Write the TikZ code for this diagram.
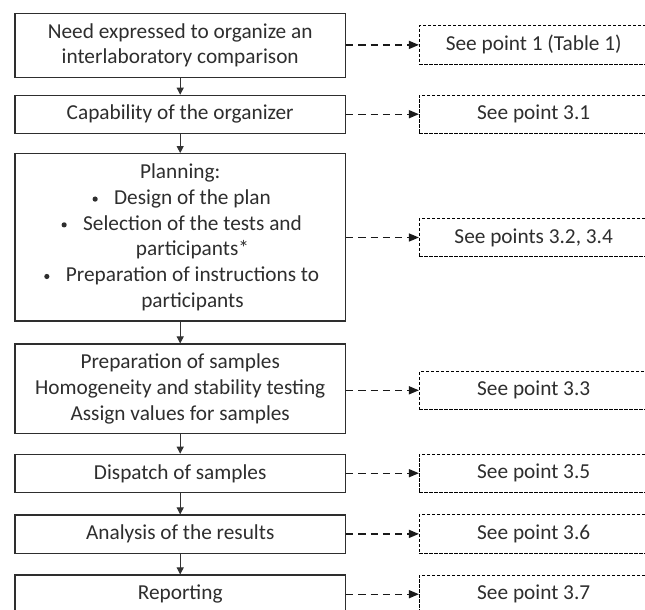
\documentclass[tikz,border=0pt]{standalone}
\usepackage{fontspec}
\setmainfont{Carlito}
\usetikzlibrary{arrows.meta}
\newcommand{\smallbul}{\tikz[baseline=-5.2pt]\fill (0,0) circle[radius=2.6pt];}
\newcommand{\bul}{\llap{\makebox[10pt]{\smallbul}\hspace{14pt}}}
\begin{document}
\begin{tikzpicture}[x=1pt,y=-1pt,
  txt/.style={font=\fontsize{21.3pt}{25.8pt}\selectfont, text=black!82},
  proc/.style={txt, draw=black!82, line width=1.2pt, align=center, minimum width=330.3pt, inner sep=0pt},
  refbox/.style={txt, draw=black, line width=0.9pt, dash pattern=on 3.3pt off 1.7pt, minimum width=228.7pt, minimum height=38.3pt, inner sep=0pt},
  flow/.style={draw=black!80, line width=1pt, -{Triangle[length=7pt,width=7pt]}},
  link/.style={draw=black!90, line width=1.4pt, dash pattern=on 7.3pt off 5pt, -{Triangle[length=10pt,width=8pt]}}]
\useasboundingbox (0,0) rectangle (645,610);
\fill[white] (0,0) rectangle (645,610);
% main boxes
\node[proc, minimum height=64pt] (b1) at (180.2,45.3) {Need expressed to organize an\\interlaboratory comparison};
\node[proc, minimum height=38pt] (b2) at (180.2,114.3) {Capability of the organizer};
\node[proc, minimum height=167.3pt] (b3) at (180.2,237.3) {Planning:\\
\hspace*{24.6pt}\bul Design of the plan\\
\hspace*{24.6pt}\bul Selection of the tests and\\
\hspace*{24.6pt}participants*\\
\hspace*{24.6pt}\bul Preparation of instructions to\\
\hspace*{24.6pt}participants};
\node[proc, minimum height=89.3pt] (b4) at (180.2,388.7) {Preparation of samples\\Homogeneity and stability testing\\Assign values for samples};
\node[proc, minimum height=38.4pt] (b5) at (180.2,473.5) {Dispatch of samples};
\node[proc, minimum height=38.3pt] (b6) at (180.2,534.2) {Analysis of the results};
\node[proc, minimum height=38.3pt] (b7) at (180.2,594.2) {Reporting};
% reference boxes
\node[refbox, minimum height=39.3pt] (d1) at (533.7,44.9) {See point 1 (Table 1)};
\node[refbox] (d2) at (533.7,114.2) {See point 3.1};
\node[refbox] (d3) at (533.7,237.5) {See points 3.2, 3.4};
\node[refbox, minimum height=37.3pt] (d4) at (533.7,390.3) {See point 3.3};
\node[refbox] (d5) at (533.7,473.2) {See point 3.5};
\node[refbox] (d6) at (533.7,533.9) {See point 3.6};
\node[refbox] (d7) at (533.7,594.2) {See point 3.7};
% flow arrows
\draw[flow] (b1) -- (b2);
\draw[flow] (b2) -- (b3);
\draw[flow] (b3) -- (b4);
\draw[flow] (b4) -- (b5);
\draw[flow] (b5) -- (b6);
\draw[flow] (b6) -- (b7);
% links
\foreach \i in {1,...,7}{
  \draw[link] (b\i.east |- d\i.west) -- (d\i.west);
}
\end{tikzpicture}
\end{document}
